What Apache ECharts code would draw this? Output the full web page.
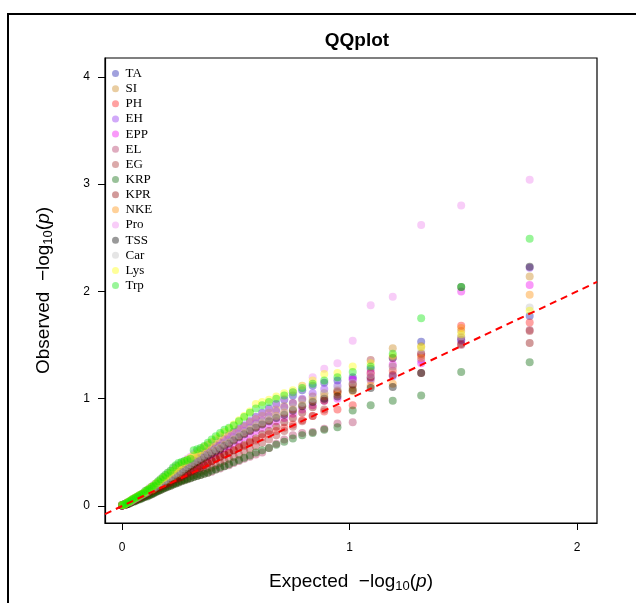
<!DOCTYPE html>
<html>
<head>
<meta charset="utf-8">
<script src="https://cdn.jsdelivr.net/npm/echarts@6/dist/echarts.min.js"></script>
<style>html,body{margin:0;padding:0;background:#fff}#c{width:636px;height:603px}</style>
</head>
<body>
<div id="c"></div>
<script>
// Expected -log10(p) (62 ranked points)
const expected = [1.792,1.491,1.315,1.190,1.093,1.014,0.947,0.889,0.838,0.792,0.751,0.713,0.678,0.646,0.616,0.588,0.562,0.537,0.514,0.491,0.470,0.450,0.431,0.412,0.394,0.377,0.361,0.345,0.330,0.315,0.301,0.287,0.274,0.261,0.248,0.236,0.224,0.213,0.201,0.190,0.180,0.169,0.159,0.149,0.139,0.130,0.120,0.111,0.102,0.093,0.085,0.076,0.068,0.060,0.052,0.044,0.037,0.029,0.022,0.014,0.007,0.000];

const TA  = [1.77,1.55,1.53,1.38,1.28,1.20,1.17,1.15,1.12,1.08,1.03,0.99,0.95,0.91,0.87,0.83,0.79,0.75,0.72,0.69,0.66,0.63,0.60,0.57,0.55,0.52,0.50,0.48,0.45,0.43,0.41,0.39,0.37,0.35,0.33,0.31,0.29,0.28,0.26,0.25,0.23,0.22,0.20,0.19,0.17,0.16,0.15,0.13,0.12,0.11,0.10,0.09,0.08,0.07,0.06,0.05,0.04,0.03,0.025,0.02,0.01,0.005];
const SI  = [2.14,1.63,1.49,1.47,1.25,1.10,1.08,1.05,1.02,0.99,0.96,0.93,0.90,0.87,0.84,0.81,0.78,0.74,0.71,0.68,0.65,0.62,0.59,0.56,0.53,0.51,0.49,0.47,0.45,0.43,0.41,0.39,0.37,0.35,0.33,0.31,0.29,0.27,0.26,0.24,0.23,0.21,0.20,0.18,0.17,0.16,0.14,0.13,0.12,0.11,0.10,0.09,0.08,0.07,0.06,0.05,0.04,0.03,0.025,0.02,0.01,0.01];
const PH  = [1.71,1.68,1.40,1.26,1.23,0.94,0.90,0.88,0.84,0.80,0.76,0.73,0.70,0.67,0.64,0.61,0.59,0.56,0.54,0.52,0.50,0.48,0.46,0.44,0.42,0.40,0.38,0.37,0.35,0.34,0.32,0.31,0.29,0.28,0.27,0.25,0.24,0.23,0.22,0.21,0.20,0.18,0.17,0.16,0.15,0.14,0.13,0.12,0.11,0.10,0.09,0.08,0.07,0.065,0.06,0.05,0.04,0.03,0.025,0.02,0.01,0.005];
const EH  = [2.22,1.54,1.36,1.21,1.19,1.18,1.12,1.09,1.05,1.00,0.96,0.92,0.88,0.84,0.80,0.77,0.73,0.70,0.67,0.64,0.61,0.58,0.56,0.53,0.51,0.49,0.47,0.45,0.43,0.41,0.39,0.37,0.36,0.34,0.32,0.31,0.29,0.28,0.26,0.25,0.23,0.22,0.20,0.19,0.18,0.16,0.15,0.14,0.12,0.11,0.10,0.09,0.08,0.07,0.06,0.05,0.04,0.03,0.03,0.02,0.01,0.01];
const EPP = [2.06,2.00,1.33,1.32,1.24,1.18,1.00,0.98,0.94,0.90,0.86,0.82,0.79,0.76,0.73,0.70,0.67,0.64,0.61,0.59,0.56,0.54,0.52,0.50,0.48,0.46,0.44,0.42,0.40,0.38,0.36,0.35,0.33,0.32,0.30,0.29,0.27,0.26,0.24,0.23,0.22,0.20,0.19,0.18,0.17,0.15,0.14,0.13,0.12,0.11,0.10,0.09,0.08,0.07,0.06,0.05,0.04,0.03,0.02,0.02,0.01,0.005];
const EL  = [1.64,1.50,1.42,1.30,1.17,0.78,0.77,0.72,0.69,0.68,0.66,0.62,0.58,0.54,0.50,0.48,0.46,0.44,0.42,0.40,0.38,0.37,0.35,0.34,0.32,0.31,0.30,0.29,0.28,0.27,0.26,0.25,0.24,0.23,0.22,0.21,0.20,0.19,0.18,0.17,0.16,0.15,0.14,0.13,0.12,0.11,0.10,0.10,0.09,0.08,0.07,0.07,0.06,0.05,0.05,0.04,0.03,0.03,0.02,0.01,0.01,0.005];
const EG  = [1.63,1.57,1.42,1.38,1.36,1.14,1.07,0.90,0.84,0.79,0.74,0.70,0.66,0.62,0.59,0.56,0.53,0.51,0.48,0.46,0.44,0.42,0.40,0.38,0.36,0.35,0.33,0.32,0.30,0.29,0.28,0.26,0.25,0.24,0.23,0.22,0.21,0.20,0.19,0.18,0.17,0.16,0.15,0.14,0.13,0.12,0.11,0.10,0.09,0.09,0.08,0.07,0.06,0.06,0.05,0.04,0.03,0.03,0.02,0.01,0.01,0.005];
const KRP = [1.34,1.25,1.03,0.98,0.94,0.89,0.735,0.71,0.68,0.66,0.63,0.60,0.57,0.54,0.52,0.50,0.47,0.45,0.43,0.41,0.39,0.37,0.36,0.34,0.33,0.31,0.30,0.29,0.28,0.27,0.26,0.25,0.24,0.23,0.22,0.21,0.20,0.19,0.18,0.17,0.16,0.15,0.14,0.13,0.12,0.11,0.10,0.09,0.09,0.08,0.07,0.06,0.06,0.05,0.04,0.04,0.03,0.02,0.02,0.01,0.01,0.005];
const KPR = [1.52,1.51,1.24,1.22,1.20,1.13,1.06,0.98,0.92,0.87,0.82,0.78,0.74,0.70,0.67,0.63,0.60,0.57,0.55,0.52,0.50,0.48,0.46,0.44,0.42,0.40,0.38,0.36,0.35,0.33,0.32,0.30,0.29,0.27,0.26,0.25,0.24,0.22,0.21,0.20,0.19,0.18,0.17,0.16,0.15,0.14,0.13,0.12,0.11,0.10,0.09,0.08,0.07,0.06,0.05,0.05,0.04,0.03,0.02,0.02,0.01,0.005];
const NKE = [1.97,1.66,1.38,1.14,1.12,1.07,1.04,1.02,0.98,0.94,0.90,0.87,0.84,0.80,0.77,0.74,0.71,0.68,0.65,0.62,0.59,0.57,0.54,0.52,0.50,0.48,0.45,0.43,0.41,0.39,0.37,0.35,0.34,0.32,0.30,0.29,0.27,0.26,0.24,0.23,0.21,0.20,0.19,0.18,0.16,0.15,0.14,0.13,0.12,0.11,0.10,0.09,0.08,0.07,0.06,0.05,0.04,0.03,0.03,0.02,0.01,0.01];
const Pro = [3.04,2.80,2.62,1.95,1.87,1.54,1.33,1.28,1.20,1.12,1.06,1.00,0.95,0.90,0.86,0.83,0.79,0.75,0.72,0.69,0.67,0.65,0.63,0.61,0.59,0.57,0.55,0.53,0.51,0.49,0.46,0.44,0.42,0.40,0.38,0.37,0.35,0.33,0.31,0.29,0.27,0.25,0.23,0.21,0.20,0.18,0.17,0.15,0.14,0.12,0.11,0.10,0.09,0.08,0.07,0.06,0.05,0.04,0.03,0.02,0.01,0.01];
const TSS = [2.23,2.04,1.24,1.11,1.10,1.08,1.02,1.00,0.97,0.93,0.89,0.85,0.82,0.79,0.76,0.73,0.70,0.67,0.64,0.61,0.58,0.56,0.53,0.51,0.49,0.47,0.45,0.43,0.41,0.39,0.37,0.35,0.34,0.32,0.31,0.29,0.28,0.26,0.25,0.23,0.22,0.21,0.19,0.18,0.17,0.16,0.14,0.13,0.12,0.11,0.10,0.09,0.08,0.07,0.06,0.05,0.04,0.03,0.02,0.02,0.01,0.005];
const Car = [1.85,1.58,1.45,1.30,1.22,1.15,1.10,1.05,1.00,0.96,0.92,0.88,0.84,0.81,0.78,0.75,0.72,0.69,0.66,0.63,0.60,0.58,0.55,0.53,0.51,0.49,0.47,0.45,0.43,0.41,0.39,0.37,0.35,0.33,0.31,0.30,0.28,0.27,0.25,0.24,0.22,0.21,0.20,0.18,0.17,0.16,0.15,0.13,0.12,0.11,0.10,0.09,0.08,0.07,0.06,0.05,0.04,0.03,0.03,0.02,0.01,0.01];
const Lys = [1.82,1.60,1.48,1.40,1.33,1.30,1.24,1.23,1.17,1.12,1.08,1.05,1.02,0.99,0.97,0.95,0.88,0.84,0.80,0.76,0.72,0.69,0.66,0.63,0.60,0.57,0.55,0.52,0.49,0.47,0.45,0.43,0.41,0.39,0.37,0.35,0.33,0.31,0.29,0.27,0.26,0.24,0.22,0.21,0.19,0.18,0.16,0.15,0.13,0.12,0.11,0.10,0.09,0.08,0.07,0.06,0.05,0.04,0.03,0.02,0.01,0.01];
const Trp = [2.49,2.04,1.75,1.42,1.30,1.25,1.20,1.17,1.14,1.10,1.06,1.03,1.00,0.97,0.94,0.91,0.87,0.83,0.79,0.75,0.73,0.71,0.68,0.65,0.62,0.59,0.56,0.54,0.53,0.52,0.44,0.43,0.42,0.41,0.40,0.38,0.36,0.33,0.31,0.29,0.27,0.25,0.23,0.21,0.19,0.18,0.16,0.15,0.14,0.12,0.11,0.10,0.09,0.08,0.07,0.06,0.05,0.04,0.03,0.02,0.015,0.01];

const seriesNames = ['TA','SI','PH','EH','EPP','EL','EG','KRP','KPR','NKE','Pro','TSS','Car','Lys','Trp'];
const seriesValues = [TA,SI,PH,EH,EPP,EL,EG,KRP,KPR,NKE,Pro,TSS,Car,Lys,Trp];
const seriesColors = ['rgba(20,20,170,0.5)','rgba(200,130,20,0.5)','rgba(255,20,20,0.5)','rgba(140,40,240,0.5)',
  'rgba(240,0,240,0.5)','rgba(176,48,96,0.5)','rgba(165,42,42,0.5)','rgba(0,100,0,0.5)','rgba(139,0,0,0.5)',
  'rgba(255,140,0,0.5)','rgba(238,130,238,0.5)','rgba(0,0,0,0.5)','rgba(190,190,190,0.5)','rgba(255,255,0,0.5)','rgba(0,230,0,0.5)'];

const xLim = [-0.075, 2.088];
const yLim = [-0.158, 4.175];
const xTicks = [0, 1, 2];
const yTicks = [0, 1, 2, 3, 4];

const chart = echarts.init(document.getElementById('c'), null, {renderer: 'canvas'});

const series = seriesNames.map((name, k) => ({
  name: name,
  type: 'scatter',
  symbol: 'circle',
  symbolSize: 8,
  itemStyle: {color: seriesColors[k], borderWidth: 0},
  emphasis: {disabled: true},
  data: expected.map((x, i) => [x, seriesValues[k][i]])
}));
series.push({
  name: 'ref',
  type: 'line',
  data: [[xLim[0], xLim[0]], [xLim[1], xLim[1]]],
  symbol: 'none',
  lineStyle: {color: '#ff0000', width: 2, type: [7, 5]},
  z: 10,
  silent: true
});

const nameRich = {
  t: {fontFamily: 'Liberation Sans, Arial', fontSize: 19, color: '#000'},
  s: {fontFamily: 'Liberation Sans, Arial', fontSize: 13, color: '#000', padding: [10, 0, 0, 0]},
  i: {fontFamily: 'Liberation Sans, Arial', fontSize: 19, fontStyle: 'italic', color: '#000'}
};

chart.setOption({
  animation: false,
  backgroundColor: '#fff',
  title: {
    text: 'QQplot',
    left: 352, top: 26, textAlign: 'center',
    textStyle: {fontFamily: 'Liberation Sans, Arial', fontWeight: 'bold', fontSize: 19, color: '#000'}
  },
  graphic: [{
    type: 'rect', shape: {x: 8, y: 14, width: 800, height: 800},
    style: {fill: 'none', stroke: '#000', lineWidth: 2}, silent: true
  }],
  legend: {
    orient: 'vertical', left: 112, top: 66, padding: 0, itemGap: 0.15,
    itemWidth: 10, itemHeight: 7,
    data: seriesNames.map(n => ({name: n, icon: 'circle'})),
    textStyle: {fontFamily: 'Liberation Serif, Times New Roman, serif', fontSize: 13, color: '#000', lineHeight: 15}
  },
  grid: {left: 105, right: 39, top: 58, bottom: 80, show: true, borderColor: '#000', borderWidth: 1.2, backgroundColor: 'transparent'},
  xAxis: {
    type: 'value', min: xLim[0], max: xLim[1],
    axisLine: {onZero: false, lineStyle: {color: '#000', width: 1.2}},
    axisTick: {show: true, length: 7, customValues: xTicks, lineStyle: {color: '#000'}},
    axisLabel: {customValues: xTicks, color: '#000', fontFamily: 'Liberation Sans, Arial', fontSize: 12, margin: 19},
    splitLine: {show: false},
    name: '{t|Expected  −log}{s|10}{t|(}{i|p}{t|)}',
    nameLocation: 'middle', nameGap: 47,
    nameTextStyle: {rich: nameRich}
  },
  yAxis: {
    type: 'value', min: yLim[0], max: yLim[1],
    axisLine: {onZero: false, lineStyle: {color: '#000', width: 1.2}},
    axisTick: {show: true, length: 7, customValues: yTicks, lineStyle: {color: '#000'}},
    axisLabel: {customValues: yTicks, color: '#000', fontFamily: 'Liberation Sans, Arial', fontSize: 12, margin: 15},
    splitLine: {show: false},
    name: '{t|Observed  −log}{s|10}{t|(}{i|p}{t|)}',
    nameLocation: 'middle', nameGap: 50, nameRotate: 90,
    nameTextStyle: {rich: nameRich}
  },
  series: series
});
</script>
</body>
</html>
